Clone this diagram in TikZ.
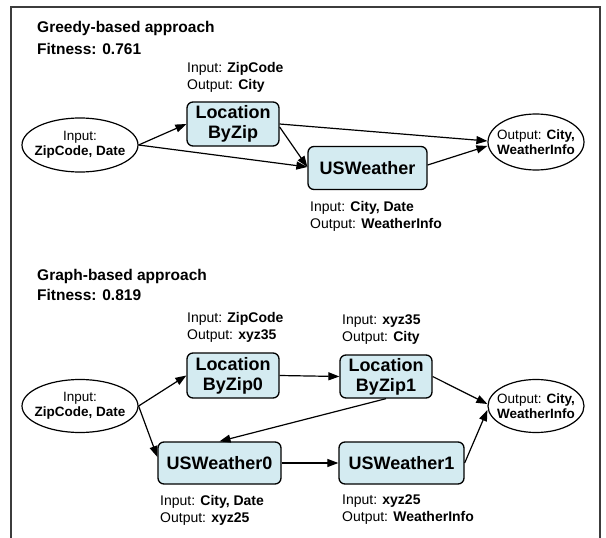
\documentclass[tikz,border=0pt]{standalone}
\usepackage{fontspec}
\setmainfont{Liberation Sans}
\usetikzlibrary{arrows.meta,shapes.geometric}
\definecolor{boxfill}{RGB}{212,235,241}
\definecolor{framegray}{RGB}{60,60,60}
\tikzset{
  svc/.style={draw=black, line width=1.3pt, fill=boxfill, rounded corners=6pt,
    align=center, inner sep=0pt, font=\bfseries\fontsize{18}{20}\selectfont},
  io/.style={draw=black, line width=1.2pt, ellipse, inner sep=0pt},
  iotext/.style={align=center, inner sep=0pt, font=\fontsize{13.5}{15.5}\selectfont},
  lbl/.style={anchor=west, align=left, inner sep=0pt, font=\fontsize{14}{17}\selectfont},
  ttl/.style={anchor=west, inner sep=0pt, font=\bfseries\fontsize{15.5}{18}\selectfont},
  arr/.style={-{Triangle[length=11pt,width=8pt]}, line width=1.2pt, black},
}
\begin{document}
\begin{tikzpicture}[x=1pt,y=-1pt]
\useasboundingbox (0,0) rectangle (606,538);
\draw[framegray, line width=1.3pt] (11,545) -- (11,7) -- (600,7) -- (600,545);

% ---------------- Greedy ----------------
\node[ttl] (t1) at (37,28) {Greedy-based approach};
\node[ttl] (f1) at (37,49) {Fitness: 0.761};
\node[lbl] (lzl) at (187,77.5) {Input: \textbf{ZipCode}\\Output: \textbf{City}};
\node[svc, minimum width=92pt, minimum height=44pt] (lz) at (233,124) {Location\\ByZip};
\node[svc, minimum width=119pt, minimum height=43pt] (usw) at (367.5,168) {USWeather};
\node[lbl] (uswl) at (310,216) {Input: \textbf{City, Date}\\Output: \textbf{WeatherInfo}};
\node[io, minimum width=116pt, minimum height=54pt] (in1) at (80,145) {};
\node[iotext] (in1t) at (in1.center) {Input:\\\textbf{ZipCode, Date}};
\node[io, minimum width=96pt, minimum height=56pt] (out1) at (536,142) {};
\node[iotext] (out1t) at (out1.center) {Output: \textbf{City,}\\\textbf{WeatherInfo}};

\draw[arr] (in1.east) -- (lz.west);
\draw[arr] (in1.east) -- ([yshift=1pt]usw.west);
\draw[arr] (lz.east) -- ([yshift=1pt]out1.west);
\draw[arr] ([yshift=-3pt]lz.east) -- ([yshift=1pt]usw.west);
\draw[arr] ([yshift=3pt]usw.east) -- ([yshift=-4pt]out1.west);

% ---------------- Graph ----------------
\node[ttl] (t2) at (37,276) {Graph-based approach};
\node[ttl] (f2) at (37,295) {Fitness: 0.819};
\node[lbl] (lz0l) at (187,327.5) {Input: \textbf{ZipCode}\\Output: \textbf{xyz35}};
\node[lbl] (lz1l) at (342,330) {Input: \textbf{xyz35}\\Output: \textbf{City}};
\node[svc, minimum width=92pt, minimum height=45pt] (lz0) at (233,375.5) {Location\\ByZip0};
\node[svc, minimum width=92pt, minimum height=43pt] (lz1) at (386,376.5) {Location\\ByZip1};
\node[svc, minimum width=123pt, minimum height=42pt] (usw0) at (219.5,463) {USWeather0};
\node[svc, minimum width=125pt, minimum height=42pt] (usw1) at (401.5,463) {USWeather1};
\node[lbl] (usw0l) at (160,510) {Input: \textbf{City, Date}\\Output: \textbf{xyz25}};
\node[lbl] (usw1l) at (342,510) {Input: \textbf{xyz25}\\Output: \textbf{WeatherInfo}};
\node[io, minimum width=116pt, minimum height=53pt] (in2) at (80,406) {};
\node[iotext] (in2t) at (in2.center) {Input:\\\textbf{ZipCode, Date}};
\node[io, minimum width=96pt, minimum height=53pt] (out2) at (536,406) {};
\node[iotext] (out2t) at (out2.center) {Output: \textbf{City,}\\\textbf{WeatherInfo}};

\draw[arr] (in2.east) -- (lz0.west);
\draw[arr] (in2.east) -- ([yshift=6pt]usw0.west);
\draw[arr] (lz0.east) -- (lz1.west);
\draw[arr] (lz1.south) -- (usw0.north);
\draw[arr] (lz1.east) -- ([yshift=2pt]out2.west);
\draw[arr] (usw0.east) -- (usw1.west);
\draw[arr] (usw1.east) -- ([yshift=-4pt]out2.west);
\end{tikzpicture}
\end{document}
